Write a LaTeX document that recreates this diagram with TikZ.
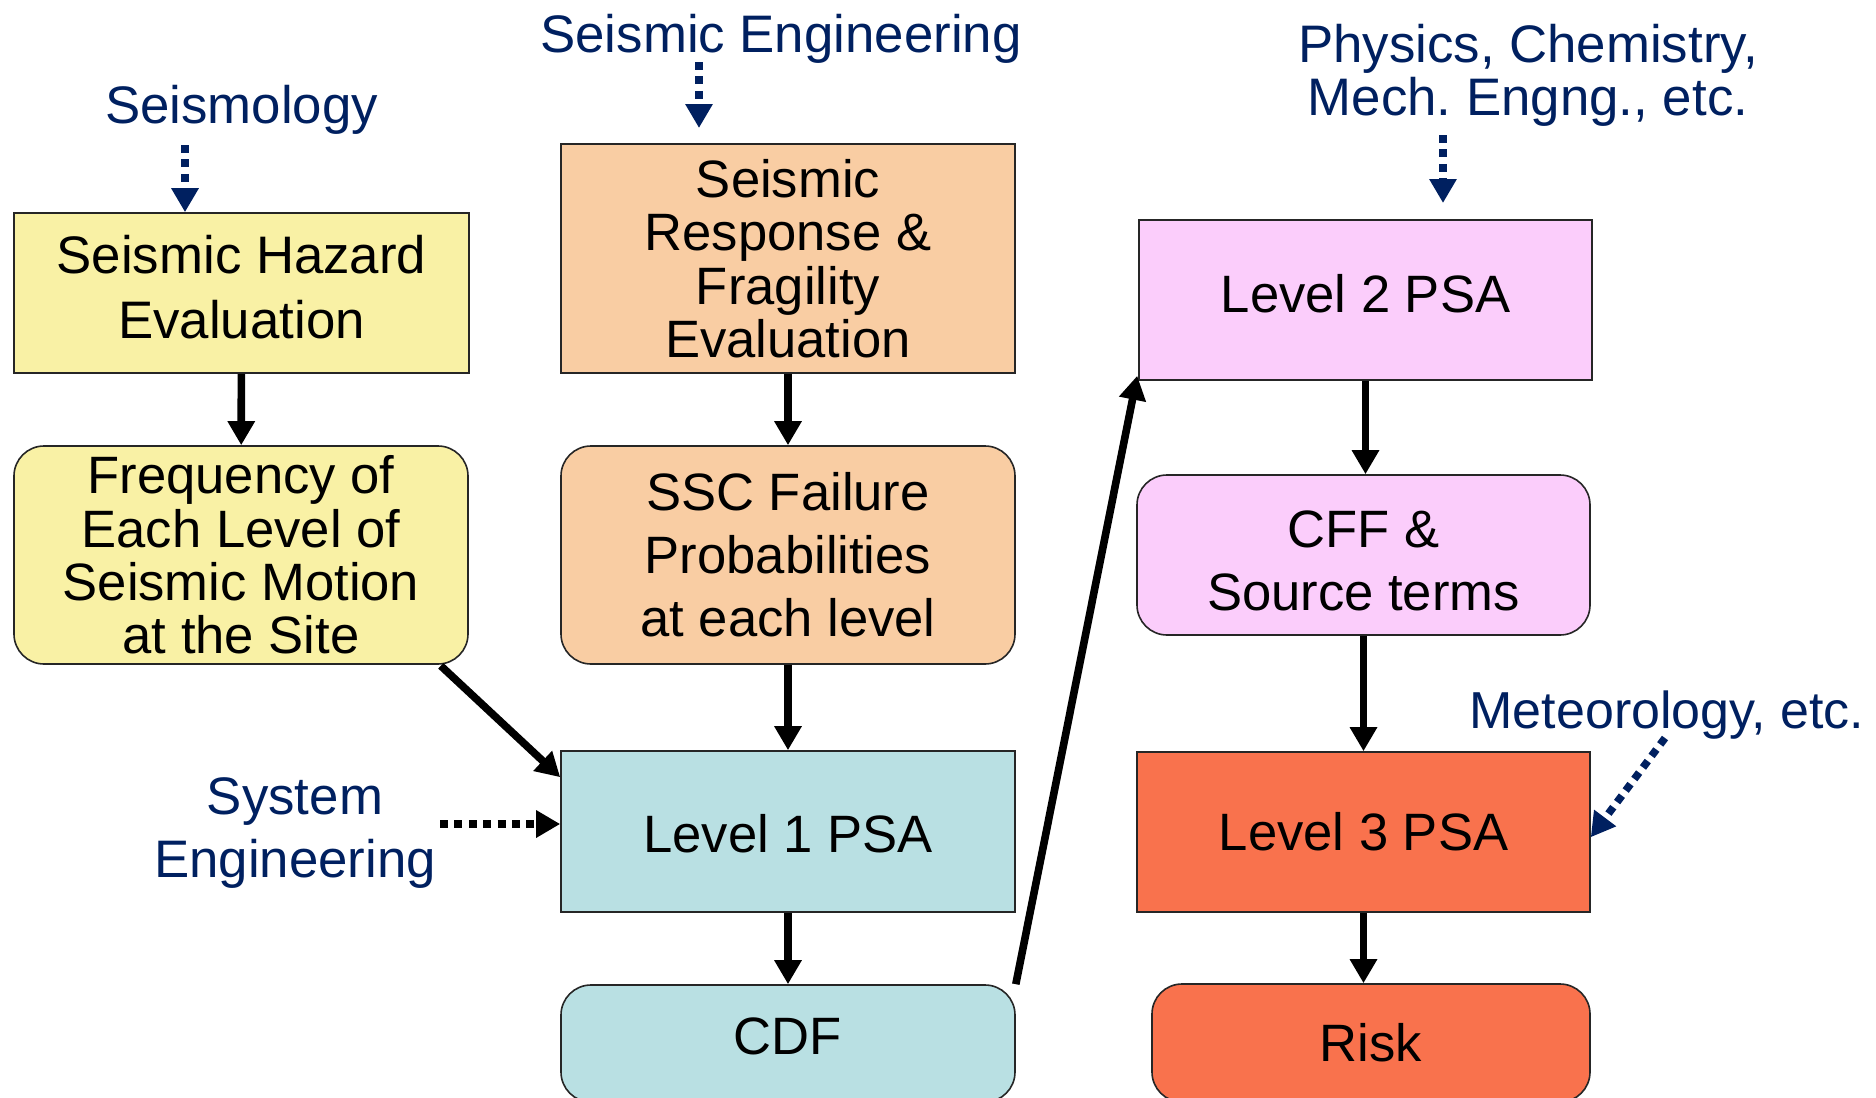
\documentclass[tikz,border=0pt]{standalone}
\usepackage{fontspec}
\setmainfont{Liberation Sans}
\usetikzlibrary{arrows.meta,calc}
\frenchspacing
\definecolor{cyel}{HTML}{F9F1A5}
\definecolor{cpeach}{HTML}{F9CDA3}
\definecolor{cblue}{HTML}{B9E0E3}
\definecolor{cpink}{HTML}{FBCDFB}
\definecolor{cred}{HTML}{F9724D}
\definecolor{navy}{HTML}{002060}
\begin{document}
\begin{tikzpicture}[x=0.5pt,y=-0.5pt,
  box/.style={draw=black!85, line width=0.8pt, align=center, inner sep=0pt, text=black,
              font=\fontsize{26.3pt}{31.5pt}\selectfont},
  rbox/.style={box, rounded corners=15pt},
  lab/.style={text=navy, align=center, inner sep=0pt, font=\fontsize{26.4pt}{31.5pt}\selectfont},
  flow/.style={-{Triangle[width=13pt,length=12pt]}, line width=3.8pt, black},
  dotflow/.style={-{Triangle[width=13pt,length=12pt]}, line width=3.8pt, dash pattern=on 4pt off 3.2pt},
]
\useasboundingbox (0,0) rectangle (1876,1098);
\clip (0,0) rectangle (1876,1098);

% boxes
\node[box, fill=cyel, minimum width=227.5pt, minimum height=80pt, text depth=6pt,
      font=\fontsize{26.4pt}{32.5pt}\selectfont] (haz) at (241.5,293) {Seismic Hazard\\Evaluation};
\node[rbox, fill=cyel, minimum width=227pt, minimum height=109pt,
      font=\fontsize{26.3pt}{26.6pt}\selectfont] (freq) at (241,555) {Frequency of\\Each Level of\\Seismic Motion\\at the Site};
\node[box, fill=cpeach, minimum width=227pt, minimum height=114.5pt,
      font=\fontsize{26.3pt}{26.7pt}\selectfont] (srf) at (788,258.5) {Seismic\\Response \&\\Fragility\\Evaluation};
\node[rbox, fill=cpeach, minimum width=227pt, minimum height=109pt] (ssc) at (788,555) {SSC Failure\\Probabilities\\at each level};
\node[box, fill=cblue, minimum width=227pt, minimum height=80.5pt, text height=21.5pt] (l1) at (788,831.5) {Level 1 PSA};
\node[rbox, fill=cblue, minimum width=227pt, minimum height=58.5pt, text depth=7.5pt] (cdf) at (788,1043.5) {CDF};
\node[box, fill=cpink, minimum width=226.5pt, minimum height=80pt, text depth=7pt] (l2) at (1365.5,300) {Level 2 PSA};
\node[rbox, fill=cpink, minimum width=226.5pt, minimum height=80pt] (cff) at (1363.5,555) {\rule{0pt}{24pt}CFF \&\\Source terms};
\node[box, fill=cred, minimum width=226.5pt, minimum height=80pt] (l3) at (1363.5,832) {Level 3 PSA};
\node[rbox, fill=cred, minimum width=219pt, minimum height=59pt] (risk) at (1371,1043) {Risk};

% labels
\node[lab, anchor=base] (seis) at (241.5,123) {Seismology};
\node[lab, anchor=base] (seng) at (781,52) {Seismic Engineering};
\node[lab] (sys) at (295,833) {System\\Engineering};
\node[lab, font=\fontsize{26.4pt}{26.5pt}\selectfont] (phys) at (1528,75) {Physics, Chemistry,\\Mech. Engng., etc.};
\node[lab, anchor=base, font=\fontsize{26pt}{30pt}\selectfont] (met) at (1667,728) {Meteorology, etc.};

% free ends of input arrows
\coordinate (seisA) at (185,145);
\coordinate (sengA) at (699,62);
\coordinate (sengB) at (699,128);
\coordinate (physA) at (1443,135);
\coordinate (physB) at (1443,203);
\coordinate (sysA) at (440,824);
\coordinate (metA) at (1665,738);

% dotted input arrows
\draw[dotflow, navy] (seisA) -- (seisA |- haz.north);
\draw[dotflow, navy] (sengA) -- (sengB);
\draw[dotflow, navy] (physA) -- (physB);
\draw[dotflow, black] (sysA) -- (sysA -| l1.west);
\draw[dotflow, navy] (metA) -- ($(l3.north east)+(0,86)$);

% flow arrows
\draw[flow] (haz) -- (freq);
\draw[flow] (srf) -- (ssc);
\draw[flow] (ssc) -- (l1);
\draw[flow] (l1) -- (cdf);
\draw[flow] ($(freq.south east)+(-28,1)$) -- ($(l1.north west)+(0,27)$);
\draw[flow] (cdf.north east) -- ($(l2.south west)+(-1,-5)$);
\draw[flow] (l2.south) -- (l2.south |- cff.north);
\draw[flow] (cff) -- (l3);
\draw[flow] (l3.south) -- (l3.south |- risk.north);
\end{tikzpicture}
\end{document}
